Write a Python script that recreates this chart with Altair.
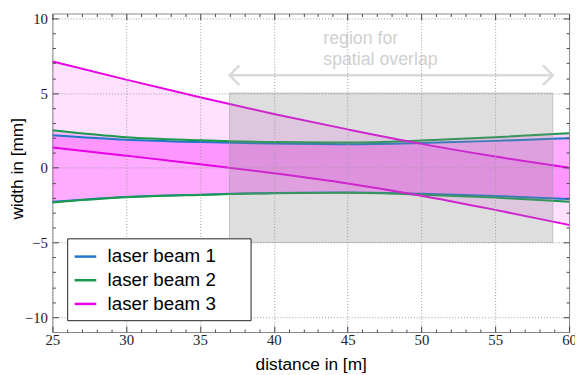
import altair as alt
import pandas as pd

# ---- data ----
dist = [25, 30, 35, 40, 45, 50, 55, 60]
beam1_upper = [2.18, 1.88, 1.72, 1.62, 1.58, 1.66, 1.80, 1.98]
beam1_lower = [-2.28, -1.96, -1.80, -1.69, -1.66, -1.74, -1.89, -2.09]
beam2_upper = [2.51, 2.05, 1.85, 1.72, 1.69, 1.82, 2.04, 2.31]
beam2_lower = [-2.32, -1.98, -1.82, -1.71, -1.68, -1.80, -2.00, -2.27]
beam3_upper = [7.12, 5.90, 4.72, 3.60, 2.57, 1.60, 0.75, 0.00]
beam3_lower = [1.36, 0.81, 0.24, -0.37, -1.05, -1.87, -2.82, -3.83]

beam_names = ["laser beam 1", "laser beam 2", "laser beam 3"]
beam_colors = ["#1f77c8", "#1a9a4a", "#e800e8"]

x_domain = [25, 60]
y_domain = [-11, 10.33]
x_major = [25, 30, 35, 40, 45, 50, 55, 60]
y_major = [-10, -5, 0, 5, 10]
x_minor = list(range(25, 61))
y_minor = list(range(-10, 11))

overlap_x = [37, 58.9]
overlap_y = [-5, 5]
arrow_y = 6.2
note_text = "region for\nspatial overlap"
note_x = 43.35
note_y = 8.27

x_title = "distance in [m]"
y_title = "width in [mm]"

W, H = 524, 323

# ---- tables ----
uppers = [beam1_upper, beam2_upper, beam3_upper]
lowers = [beam1_lower, beam2_lower, beam3_lower]

line_rows = []
for name, up, lo in zip(beam_names, uppers, lowers):
    for x, v in zip(dist, up):
        line_rows.append({"beam": name, "edge": "upper", "x": x, "y": v})
    for x, v in zip(dist, lo):
        line_rows.append({"beam": name, "edge": "lower", "x": x, "y": v})
lines_df = pd.DataFrame(line_rows)

band_rows = []
for name, up, lo in zip(beam_names, uppers, lowers):
    for x, a, b in zip(dist, up, lo):
        band_rows.append({"beam": name, "x": x, "hi": a, "lo": b})
bands_df = pd.DataFrame(band_rows)
band12_df = bands_df[bands_df.beam != "laser beam 3"]
band3_df = bands_df[bands_df.beam == "laser beam 3"]

rect_df = pd.DataFrame({"x": [overlap_x[0]], "x2": [overlap_x[1]],
                        "y": [overlap_y[0]], "y2": [overlap_y[1]]})
arrow_df = pd.DataFrame({"x": [overlap_x[0]], "x2": [overlap_x[1]], "y": [arrow_y]})
head_l_df = pd.DataFrame({"x": [overlap_x[0]], "y": [arrow_y]})
head_r_df = pd.DataFrame({"x": [overlap_x[1]], "y": [arrow_y]})
note_df = pd.DataFrame({"x": [note_x], "y": [note_y], "text": [note_text]})

xs = alt.Scale(domain=x_domain, nice=False, zero=False)
ys = alt.Scale(domain=y_domain, nice=False, zero=False)

tick_size = {"condition": {"test": "datum.value % 5 === 0", "value": 6}, "value": 3}
tick_common = dict(labels=False, domain=False, grid=False, ticks=True,
                   tickColor="#444", tickWidth=1, tickSize=tick_size, zindex=1)

main_x_axis = alt.Axis(values=x_major, ticks=False, tickSize=0, domain=False,
                       grid=True, gridDash=[1, 2], gridColor="#999", gridWidth=1,
                       labelFont="Liberation Serif", labelFontSize=15, labelColor="#222",
                       labelPadding=1, labelFlush=False, labelOverlap=False,
                       titleFont="Liberation Sans", titleFontSize=17.5,
                       titleFontWeight="normal", titleColor="black", titleY=38,
                       titleBaseline="alphabetic", zindex=1)
main_y_axis = alt.Axis(values=y_major, ticks=False, tickSize=0, domain=False,
                       grid=True, gridDash=[1, 2], gridColor="#999", gridWidth=1,
                       labelFont="Liberation Serif", labelFontSize=15, labelColor="#222",
                       labelPadding=5, labelFlush=False, labelOverlap=False,
                       titleFont="Liberation Sans", titleFontSize=17.5,
                       titleFontWeight="normal", titleColor="black", titleX=-35,
                       titleY=157, titleBaseline="middle", zindex=1)

band3 = alt.Chart(band3_df).mark_area(interpolate="monotone", color="#ff00ff",
                                      opacity=0.12).encode(
    x=alt.X("x:Q", scale=xs, axis=main_x_axis, title=x_title),
    y=alt.Y("hi:Q", scale=ys, axis=main_y_axis, title=y_title),
    y2="lo:Q",
)

band12 = alt.Chart(band12_df).mark_area(interpolate="monotone", color="#ff00ff",
                                        opacity=0.18).encode(
    x=alt.X("x:Q", scale=xs, axis=alt.Axis(orient="top", offset=-H, values=x_minor, **tick_common), title=None),
    y=alt.Y("hi:Q", scale=ys, axis=alt.Axis(orient="right", offset=-W, values=y_minor, **tick_common), title=None),
    y2="lo:Q",
    detail="beam:N",
)

lines = alt.Chart(lines_df).mark_line(interpolate="monotone", strokeWidth=2).encode(
    x=alt.X("x:Q", scale=xs, axis=alt.Axis(orient="bottom", offset=-H, values=x_minor, **tick_common), title=None),
    y=alt.Y("y:Q", scale=ys, axis=alt.Axis(orient="left", offset=-W, values=y_minor, **tick_common), title=None),
    color=alt.Color("beam:N", scale=alt.Scale(domain=beam_names, range=beam_colors),
                    legend=alt.Legend(title=None, orient="none", legendX=15, legendY=228,
                                      direction="vertical", fillColor="white",
                                      strokeColor="#222", padding=6, rowPadding=1,
                                      symbolType="stroke", symbolSize=484,
                                      symbolStrokeWidth=2.5, labelFont="Liberation Sans",
                                      labelFontSize=19, labelColor="black", labelOffset=10,
                                      labelExpr="datum.label + '\u2002\u2002\u2002\u200b'",
                                      zindex=2)),
    detail="edge:N",
)

rect = alt.Chart(rect_df).mark_rect(fill="#888888", fillOpacity=0.28, stroke="#999999",
                                    strokeOpacity=0.5, strokeWidth=1).encode(
    x=alt.X("x:Q", scale=xs, axis=None), x2="x2:Q",
    y=alt.Y("y:Q", scale=ys, axis=None), y2="y2:Q",
)

arrow = alt.Chart(arrow_df).mark_rule(color="#d9d9d9", strokeWidth=2.5).encode(
    x=alt.X("x:Q", scale=xs, axis=None), x2="x2:Q",
    y=alt.Y("y:Q", scale=ys, axis=None),
)
head_l = alt.Chart(head_l_df).mark_point(shape="M 1 -1 L 0 0 L 1 1", filled=False,
                                         strokeWidth=2.5, color="#d9d9d9", size=400,
                                         opacity=1).encode(
    x=alt.X("x:Q", scale=xs, axis=None), y=alt.Y("y:Q", scale=ys, axis=None))
head_r = alt.Chart(head_r_df).mark_point(shape="M -1 -1 L 0 0 L -1 1", filled=False,
                                         strokeWidth=2.5, color="#d9d9d9", size=400,
                                         opacity=1).encode(
    x=alt.X("x:Q", scale=xs, axis=None), y=alt.Y("y:Q", scale=ys, axis=None))

note = alt.Chart(note_df).mark_text(align="left", baseline="alphabetic", fontSize=18,
                                    font="Liberation Sans", color="#d0d0d0",
                                    lineBreak="\n", lineHeight=21).encode(
    x=alt.X("x:Q", scale=xs, axis=None), y=alt.Y("y:Q", scale=ys, axis=None),
    text="text:N")

chart = alt.layer(band3, band12, lines, rect, arrow, head_l, head_r, note).resolve_axis(
    x="independent", y="independent"
).properties(
    width=W, height=H,
    autosize=alt.AutoSizeParams(type="none"),
    padding={"left": 45, "top": 3, "right": 6, "bottom": 41},
    background="white",
).configure_view(stroke="#888888", strokeWidth=1)

chart.save("out.html", embed_options={"renderer": "svg", "actions": False})
